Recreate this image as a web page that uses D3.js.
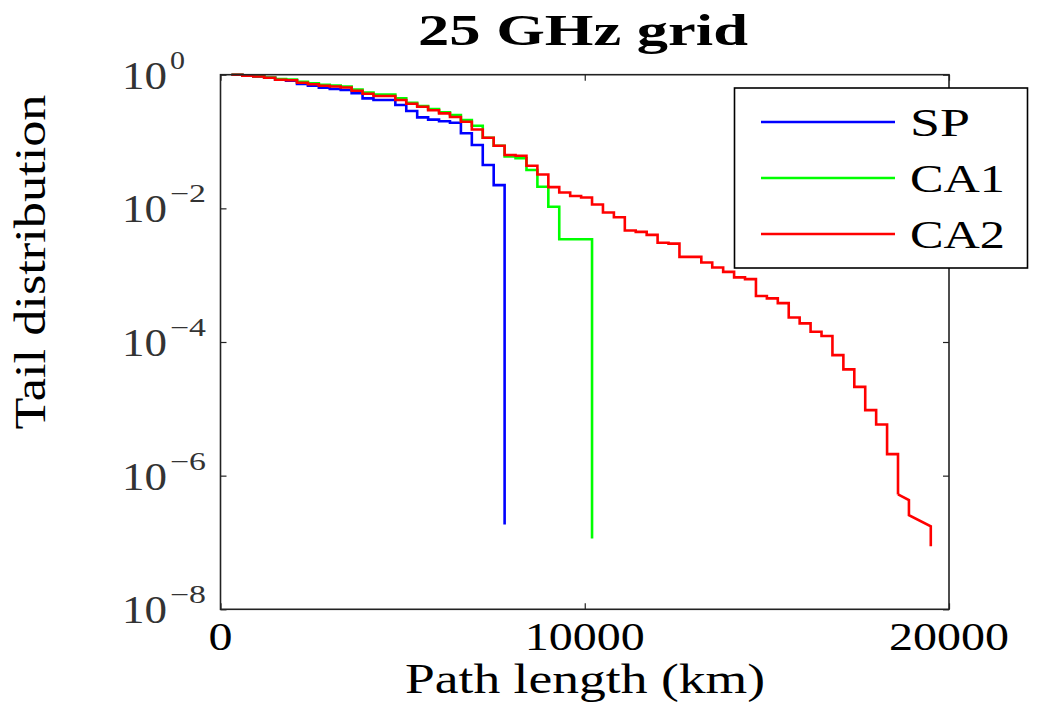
<!DOCTYPE html>
<html>
<head>
<meta charset="utf-8">
<script src="https://cdn.jsdelivr.net/npm/d3@7"></script>
<style>
  html, body { margin: 0; padding: 0; background: #fff; }
  svg { display: block; }
</style>
</head>
<body>
<svg id="chart" width="1040" height="707" font-family="'Liberation Serif', 'Times New Roman', Times, serif"></svg>
<script>
// Tail distribution of path lengths, 25 GHz grid
const chartTitle = "25 GHz grid";
const xLabel = "Path length (km)";
const yLabel = "Tail distribution";
const xTicks = [0, 10000, 20000];
const yTickExponents = [0, -2, -4, -6, -8];
const seriesNames = ["SP", "CA1", "CA2"];
const seriesColors = ["#0000ff", "#00ff00", "#ff0000"];

// Each series: path length (km) where a stair starts, and the tail probability held from there
const spKm = [300, 600, 900, 1200, 1500, 1800, 2100, 2400, 2700, 3000, 3300, 3600, 3900, 4200,
  4800, 5100, 5400, 5700, 6000, 6300, 6600, 6900, 7200, 7500, 7800];
const spTail = [1.0, 0.966, 0.940, 0.899, 0.842, 0.815, 0.726, 0.684, 0.639, 0.611, 0.590, 0.527, 0.443, 0.418,
  0.352, 0.286, 0.230, 0.213, 0.201, 0.191, 0.133, 0.0887, 0.0445, 0.0223, 1.86e-7];

const ca1Km = [300, 600, 900, 1200, 1500, 1800, 2100, 2400, 2700, 3000, 3300, 3600, 3900, 4200,
  4800, 5100, 5400, 5700, 6000, 6300, 6600, 6900, 7200, 7500, 7800, 8100, 8400, 8700, 9000, 9300, 10200];
const ca1Tail = [1.0, 0.973, 0.946, 0.908, 0.862, 0.848, 0.783, 0.746, 0.708, 0.689, 0.666, 0.600, 0.541, 0.505,
  0.443, 0.381, 0.340, 0.307, 0.274, 0.249, 0.210, 0.172, 0.114, 0.0865, 0.0600, 0.0561, 0.0374, 0.0210,
  0.01057, 0.00344, 1.15e-7];

const ca2Km = [300, 600, 900, 1200, 1500, 1800, 2100, 2400, 2700, 3000, 3300, 3600, 3900, 4200,
  4800, 5100, 5400, 5700, 6000, 6300, 6600, 6900, 7200, 7500, 7800, 8100, 8400, 8700, 9000, 9300,
  9600, 9900, 10200, 10500, 10800, 11100, 11400, 11700, 12000, 12300, 12600, 13200, 13500, 13800,
  14100, 14400, 14700, 15000, 15300, 15600, 15900, 16200, 16500, 16800, 17100, 17400, 17700, 18000,
  18300, 18600];
const ca2Tail = [1.0, 0.966, 0.940, 0.899, 0.842, 0.824, 0.759, 0.721, 0.684, 0.666, 0.643, 0.574, 0.518, 0.480,
  0.418, 0.368, 0.331, 0.294, 0.264, 0.233, 0.198, 0.151, 0.114, 0.0865, 0.0628, 0.0611, 0.0433, 0.0321,
  0.0208, 0.01725, 0.01529, 0.01452, 0.0114, 0.00865, 0.00736, 0.00466, 0.00445, 0.00401, 0.00305,
  0.00297, 0.00188, 0.00155, 0.00130, 0.00112, 0.000927, 0.000874, 0.000487, 0.000449, 0.000382,
  0.000233, 0.000190, 0.000142, 0.000123, 6.37e-5, 3.89e-5, 2.13e-5, 9.57e-6, 5.84e-6, 2.10e-6, 5.23e-7];
// last few samples of CA2 are joined point to point
const ca2EndKm = [18600, 18900, 18900, 19500, 19500];
const ca2EndTail = [5.23e-7, 4.30e-7, 2.56e-7, 1.75e-7, 8.8e-8];

const svg = d3.select("#chart");
const plotL = 220.5, plotR = 949, plotT = 74.7, plotB = 609.3;

const x = d3.scaleLinear().domain([0, 20000]).range([plotL, plotR]);
const y = d3.scaleLog().domain([1e-8, 1]).range([plotB, plotT]);

const tickLen = 6;
const lineW = 2.6;

// text helper: fixed advance width so the serif face spreads like the printed labels
function label(sel, txt, size, width, opts = {}) {
  const t = sel.append("text")
    .attr("font-size", size)
    .attr("text-anchor", opts.anchor || "middle")
    .attr("fill", opts.fill || "#000")
    .attr("font-weight", opts.weight || "normal")
    .text(txt);
  if (width) t.attr("textLength", width).attr("lengthAdjust", "spacingAndGlyphs");
  return t;
}

const plot = svg.append("g");

const stepLine = d3.line().x(d => x(d[0])).y(d => y(d[1])).curve(d3.curveStepAfter);
const linLine = d3.line().x(d => x(d[0])).y(d => y(d[1]));

const seriesData = [
  d3.zip(spKm, spTail),
  d3.zip(ca1Km, ca1Tail),
  d3.zip(ca2Km, ca2Tail)
];

seriesData.forEach((pts, i) => {
  plot.append("path").attr("d", stepLine(pts))
    .attr("fill", "none").attr("stroke", seriesColors[i]).attr("stroke-width", lineW);
});
plot.append("path").attr("d", linLine(d3.zip(ca2EndKm, ca2EndTail)))
  .attr("fill", "none").attr("stroke", seriesColors[2]).attr("stroke-width", lineW);

// axes: inward ticks on all four sides
const axisStroke = "#222";
svg.append("g").attr("transform", `translate(0,${plotB})`)
  .call(d3.axisBottom(x).tickValues(xTicks).tickSizeInner(-tickLen).tickSizeOuter(0).tickFormat(""))
  .call(g => g.select(".domain").remove());
svg.append("g").attr("transform", `translate(0,${plotT})`)
  .call(d3.axisTop(x).tickValues(xTicks).tickSizeInner(-tickLen).tickSizeOuter(0).tickFormat(""))
  .call(g => g.select(".domain").remove());
const yTickVals = yTickExponents.map(e => Math.pow(10, e));
svg.append("g").attr("transform", `translate(${plotL},0)`)
  .call(d3.axisLeft(y).tickValues(yTickVals).tickSizeInner(-tickLen).tickSizeOuter(0).tickFormat(""))
  .call(g => g.select(".domain").remove());
svg.append("g").attr("transform", `translate(${plotR},0)`)
  .call(d3.axisRight(y).tickValues(yTickVals).tickSizeInner(-tickLen).tickSizeOuter(0).tickFormat(""))
  .call(g => g.select(".domain").remove());
svg.selectAll(".tick line").attr("stroke", axisStroke).attr("stroke-width", 1.2);

svg.append("rect").attr("x", plotL).attr("y", plotT).attr("width", plotR - plotL).attr("height", plotB - plotT)
  .attr("fill", "none").attr("stroke", axisStroke).attr("stroke-width", 1.6);

// x tick labels
xTicks.forEach(v => {
  const s = String(v);
  label(svg.append("g").attr("transform", `translate(${x(v)},${650})`), s, 41, s.length * 24);
});

// y tick labels 10^e
yTickExponents.forEach(e => {
  const g = svg.append("g").attr("transform", `translate(${122},${y(Math.pow(10, e)) + 14})`);
  label(g, "10", 40, 45, { anchor: "start", fill: "#333" });
  const ex = e === 0 ? "0" : "\u2212" + Math.abs(e);
  label(g.append("g").attr("transform", "translate(48,-20)"), ex, 25, e === 0 ? 15 : 36,
    { anchor: "start", fill: "#333" });
});

// axis titles
label(svg.append("g").attr("transform", `translate(${585},${693})`), xLabel, 42, 360);
label(svg.append("g").attr("transform", `translate(${45},${262}) rotate(-90)`), yLabel, 44, 335);

// title
label(svg.append("g").attr("transform", `translate(${583},${45})`), chartTitle, 45, 330, { weight: "bold" });

// legend
const lg = svg.append("g");
lg.append("rect").attr("x", 734.5).attr("y", 88).attr("width", 293).attr("height", 180)
  .attr("fill", "#fff").attr("stroke", "#000").attr("stroke-width", 1.6);
const legendWidths = [60, 95, 95];
seriesNames.forEach((name, i) => {
  const ly = 122 + i * 56;
  lg.append("line").attr("x1", 761).attr("x2", 895).attr("y1", ly).attr("y2", ly)
    .attr("stroke", seriesColors[i]).attr("stroke-width", lineW);
  label(lg.append("g").attr("transform", `translate(${910},${ly + 14})`), name, 41, legendWidths[i],
    { anchor: "start" });
});
</script>
</body>
</html>
